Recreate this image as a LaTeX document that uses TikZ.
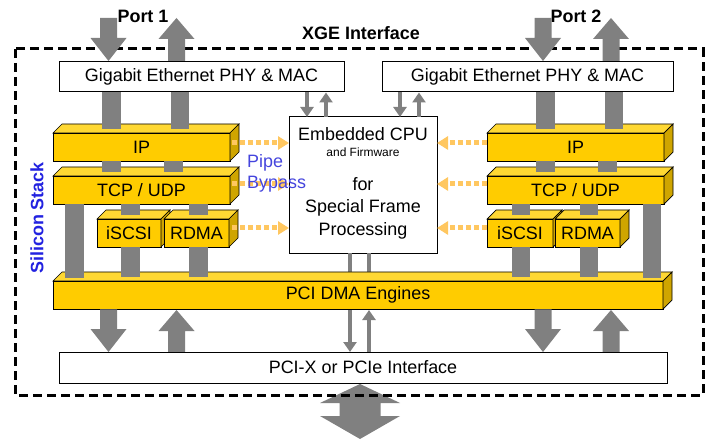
\documentclass[tikz,border=0pt]{standalone}
\usepackage{fontspec}
\setmainfont{Liberation Sans}
\usetikzlibrary{arrows.meta,calc}
\definecolor{slabF}{HTML}{FFCC00}
\definecolor{slabT}{HTML}{FFD833}
\definecolor{slabS}{HTML}{CFA500}
\definecolor{flowgray}{HTML}{808080}
\definecolor{dotorange}{HTML}{FFC760}
\definecolor{pipeblue}{HTML}{4545DD}
\definecolor{stackblue}{HTML}{2222E0}
\newcommand{\bigtxt}{\fontsize{18}{21.6}\selectfont}
\newcommand{\smalltxt}{\fontsize{12}{14}\selectfont}
\newcommand{\slab}[6]{%
  \node[slabfront, anchor=north west, minimum width=#4bp, minimum height=#5bp] (#1) at (#2,#3) {#6};
  \filldraw[slabtopface] (#1.north west) -- ++(9,-9) -- ++(#4,0) -- (#1.north east) -- cycle;
  \filldraw[slabsideface] (#1.north east) -- ++(9,-9) -- ++(0,#5) -- (#1.south east) -- cycle;
}
\newcommand{\bigdown}[3]{% x, ytop, yapex
  \fill[flowgray] (#1-8.5,#2) -- (#1+8.5,#2) -- (#1+8.5,#3-23) -- (#1+18,#3-23) -- (#1,#3) -- (#1-18,#3-23) -- (#1-8.5,#3-23) -- cycle;}
\newcommand{\bigup}[3]{% x, ybottom, yapex
  \fill[flowgray] (#1-8.5,#2) -- (#1+8.5,#2) -- (#1+8.5,#3+21) -- (#1+18,#3+21) -- (#1,#3) -- (#1-18,#3+21) -- (#1-8.5,#3+21) -- cycle;}
\begin{document}
\begin{tikzpicture}[x=1bp,y=-1bp,
  slabfront/.style={draw=black, line width=0.7bp, fill=slabF, inner sep=0pt, outer sep=0pt, font=\bigtxt},
  slabtopface/.style={draw=black, line width=0.7bp, fill=slabT},
  slabsideface/.style={draw=black, line width=0.7bp, fill=slabS},
  plainbox/.style={draw=black, line width=1bp, fill=white, inner sep=0pt, outer sep=0pt, font=\bigtxt},
  gbar/.style={fill=flowgray},
  thinflow/.style={draw=flowgray, line width=4.5bp, -{Triangle[width=13bp,length=10bp]}},
  thinline/.style={draw=flowgray, line width=4.5bp},
  dotflow/.style={draw=dotorange, line width=5bp, dash pattern=on 5bp off 3bp, -{Triangle[width=13bp,length=11bp]}},
  boldlbl/.style={font=\bigtxt\bfseries, inner sep=0pt},
  frame/.style={draw=black, line width=3bp, dash pattern=on 9bp off 5bp}
]
\useasboundingbox (0,0) rectangle (712,441);

% bottom double arrow (behind frame)
\fill[flowgray] (360,384) -- (400,403) -- (380.5,403) -- (380.5,416) -- (400,416) -- (360,439) -- (320,416) -- (339.5,416) -- (339.5,403) -- (320,403) -- cycle;

% frame
\draw[frame] (15,49) rectangle (703,395);

% labels
\node[boldlbl] (port1) at (143,16) {Port 1};
\node[boldlbl] (port2) at (576,16) {Port 2};
\node[boldlbl] (xge) at (361,33) {XGE Interface};
\node[boldlbl, text=stackblue, rotate=90] (silicon) at (37,218) {Silicon Stack};

% port block arrows
\bigdown{108.5}{18}{61}
\bigup{176.5}{61}{18}
\bigdown{543}{18}{61}
\bigup{611}{61}{18}

% PHY boxes
\node[plainbox, anchor=north west, minimum width=285bp, minimum height=30bp] (phyA) at (59,62) {Gigabit Ethernet PHY \& MAC};
\node[plainbox, anchor=north west, minimum width=291bp, minimum height=30bp] (phyB) at (382,62) {Gigabit Ethernet PHY \& MAC};

% CPU box
\node[plainbox, anchor=north west, minimum width=148bp, minimum height=136bp] (cpu) at (289,117) {};
\node[inner sep=0pt, font=\bigtxt] (cputitle) at (363,134) {Embedded CPU};
\node[inner sep=0pt, font=\smalltxt] (cpusub) at (363,152) {and Firmware};
\node[inner sep=0pt, font=\fontsize{18}{22.5}\selectfont, align=center] (cpubody) at (363,208) {for\\Special Frame\\Processing};

% thin arrows PHY <-> CPU
\draw[thinflow] (307,92.5) -- (307,117);
\draw[thinflow] (326,117) -- (326,92.5);
\draw[thinflow] (400,92.5) -- (400,117);
\draw[thinflow] (419,117) -- (419,92.5);

% thin arrows CPU <-> PCI (behind DMA slab)
\draw[thinflow] (350,253.5) -- (350,352);
\draw[thinline] (369,253.5) -- (369,300);
\draw[thinflow] (369,352) -- (369,310);

% slabs
\slab{ipA}{53}{133}{177}{28}{IP}
\slab{tcpA}{53}{176}{177}{28}{TCP / UDP}
\slab{iscsiA}{97}{219}{64}{28}{iSCSI}
\slab{rdmaA}{164}{219}{65}{28}{RDMA}
\slab{ipB}{487}{133}{177}{28}{IP}
\slab{tcpB}{487}{176}{177}{28}{TCP / UDP}
\slab{iscsiB}{487}{219}{66}{28}{iSCSI}
\slab{rdmaB}{555}{219}{65}{28}{RDMA}
\slab{dma}{53}{281}{610}{28}{PCI DMA Engines}

% gray bars left
\fill[gbar] (102,92.5) rectangle (121,129);
\fill[gbar] (171,92.5) rectangle (189,129);
\fill[gbar] (102,161.5) rectangle (121,172);
\fill[gbar] (164,161.5) rectangle (183,172);
\fill[gbar] (65,204.5) rectangle (84,278);
\fill[gbar] (121,204.5) rectangle (140,215);
\fill[gbar] (189,204.5) rectangle (208,215);
\fill[gbar] (121,247.5) rectangle (140,277);
\fill[gbar] (189,247.5) rectangle (208,277);
% gray bars right
\fill[gbar] (536,92.5) rectangle (555,129);
\fill[gbar] (605,92.5) rectangle (623,129);
\fill[gbar] (536,161.5) rectangle (555,172);
\fill[gbar] (598,161.5) rectangle (617,172);
\fill[gbar] (512,204.5) rectangle (530,215);
\fill[gbar] (580,204.5) rectangle (598,215);
\fill[gbar] (512,247.5) rectangle (530,277);
\fill[gbar] (580,247.5) rectangle (598,277);
\fill[gbar] (643,204.5) rectangle (661,278);

% DMA <-> PCI-X block arrows
\bigdown{108.5}{309.5}{352}
\bigup{176.5}{352}{310}
\bigdown{543}{309.5}{352}
\bigup{611}{352}{310}

% PCI-X box
\node[plainbox, anchor=north west, minimum width=608bp, minimum height=31bp] (pcix) at (59,352) {PCI-X or PCIe Interface};

% orange dotted arrows
\draw[dotflow] (232,143) -- (cpu.west |- 0,143);
\draw[dotflow] (232,184) -- (cpu.west |- 0,184);
\draw[dotflow] (232,228) -- (cpu.west |- 0,228);
\draw[dotflow] (ipB.west |- 0,143) -- (cpu.east |- 0,143);
\draw[dotflow] (tcpB.west |- 0,184) -- (cpu.east |- 0,184);
\draw[dotflow] (iscsiB.west |- 0,228) -- (cpu.east |- 0,228);

% pipe bypass
\node[inner sep=0pt, font=\fontsize{18}{21}\selectfont, text=pipeblue, align=left, anchor=west] (pipe) at (247,173) {Pipe\\Bypass};
\end{tikzpicture}
\end{document}
